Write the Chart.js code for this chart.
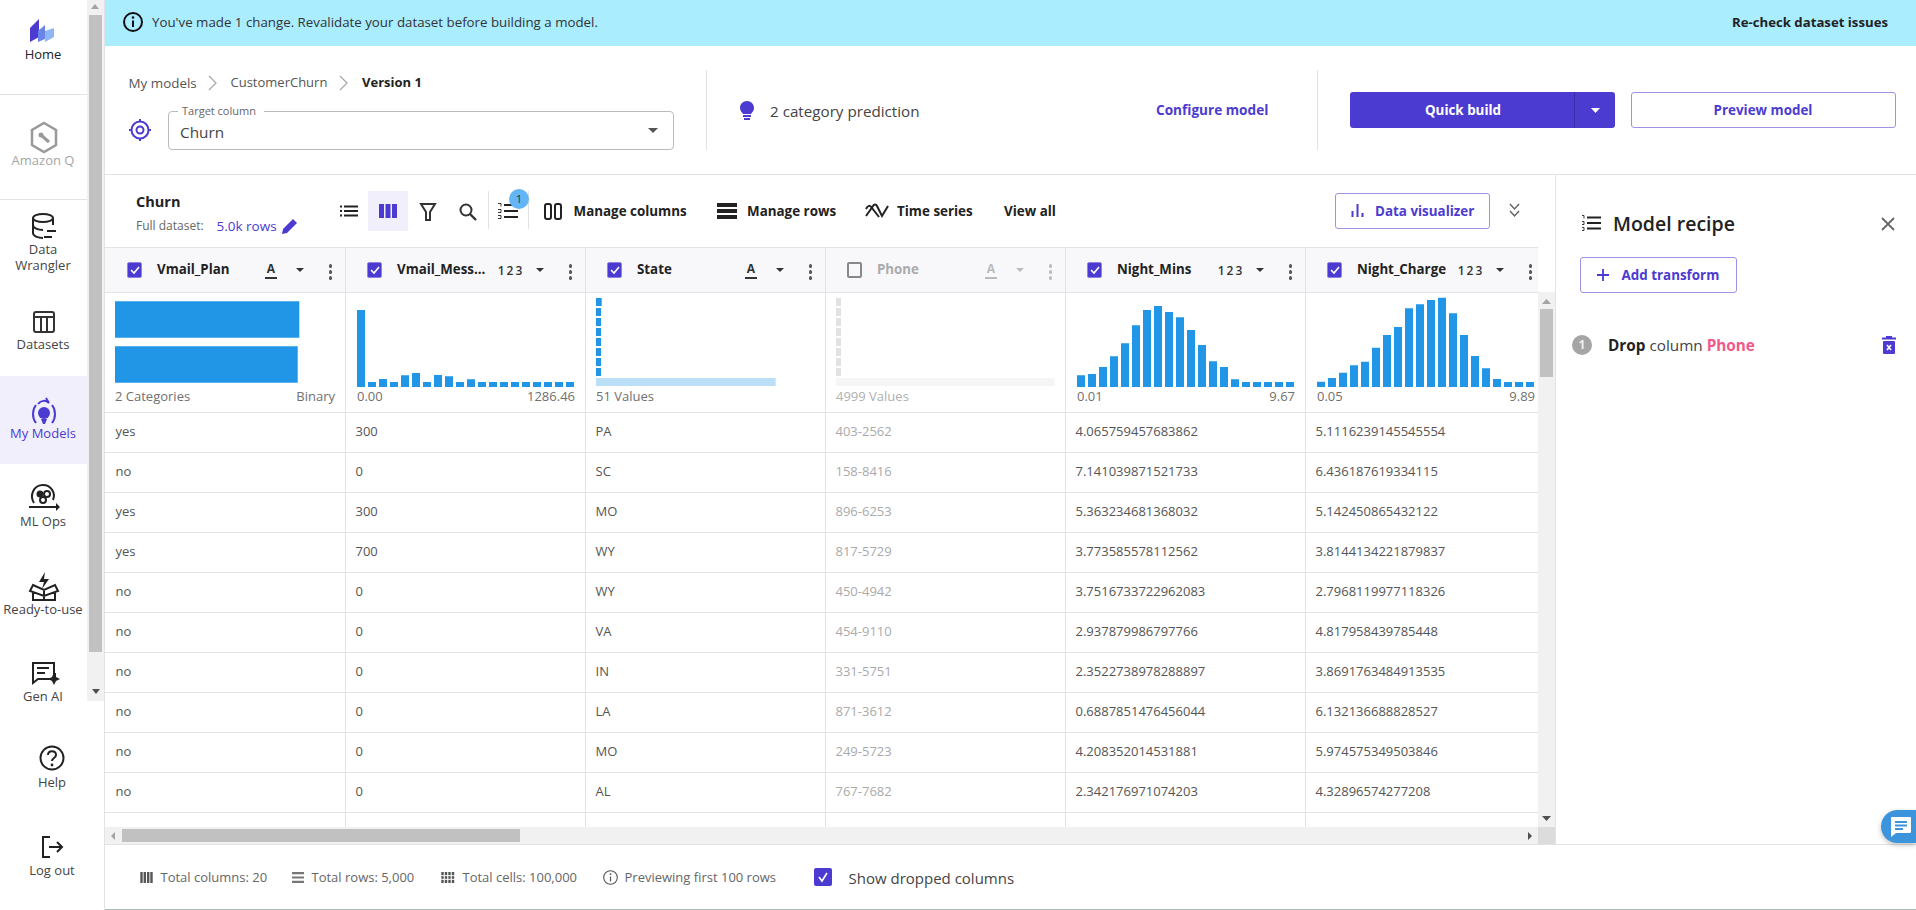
<!DOCTYPE html>
<html>
<head>
<meta charset="utf-8">
<title>CustomerChurn</title>
<script src="https://cdn.jsdelivr.net/npm/chart.js@4"></script>
<style>
  html, body { margin: 0; padding: 0; background: #fff; }
  body { width: 1916px; height: 910px; overflow: hidden; position: relative; font-family: "Open Sans", sans-serif; font-size: 13px; color: #333; }
  .t { position: absolute; white-space: nowrap; transform: translateY(-50%); line-height: 1.2; }
  .c { transform: translate(-50%, -50%); }
  .r { transform: translate(-100%, -50%); }
  .b { font-weight: 700; color: #222; font-size: 13.4px; }
  .p { color: #4c3bd1; }
  .box { position: absolute; box-sizing: border-box; }
  svg { position: absolute; overflow: visible; }
  canvas { position: absolute; }
</style>
</head>
<body>
<div id="ui"></div>
<script>
const ui = document.getElementById('ui');
const PURPLE = '#4c3bd1', BLUE = '#2196e6', LIGHT = '#bcdff8', LINE = '#e3e3e3';

function t(x, y, s, cls, css, parent) {
  const el = document.createElement('span');
  el.className = 't ' + (cls || '');
  el.style.left = x + 'px';
  el.style.top = y + 'px';
  if (css) el.style.cssText += css;
  el.innerHTML = s;
  (parent || ui).appendChild(el);
  return el;
}
function box(x, y, w, h, css, parent) {
  const el = document.createElement('div');
  el.className = 'box';
  el.style.cssText += `left:${x}px;top:${y}px;width:${w}px;height:${h}px;${css || ''}`;
  (parent || ui).appendChild(el);
  return el;
}
function ico(x, y, w, h, body, parent) {
  const wrap = document.createElement('div');
  wrap.innerHTML = `<svg style="left:${x}px;top:${y}px" width="${w}" height="${h}" viewBox="0 0 ${w} ${h}">${body}</svg>`;
  (parent || ui).appendChild(wrap.firstChild);
}
function tri(x, y, w, h, color) {
  ico(x - w / 2, y - h / 2, w, h, `<path d="M0 0H${w}L${w / 2} ${h}Z" fill="${color}"/>`);
}

// ---- sidebar
box(104, 0, 1, 910, 'background:' + LINE);
box(0, 376, 87, 88, 'background:#f0effb');
box(0, 94, 87, 1, 'background:' + LINE);
box(0, 199, 87, 1, 'background:' + LINE);
box(87, 0, 17, 701, 'background:#f1f1f1');
box(89, 15, 13, 637, 'background:#c1c1c1');
ico(91, 4, 8, 5, '<path d="M0 5L4 0L8 5Z" fill="#a3a3a3"/>');
ico(92, 689, 8, 5, '<path d="M0 0H8L4 5Z" fill="#505050"/>');

const nav = [
  ['Home', 43, 55, '#222'], ['Amazon Q', 43, 161, '#a5a5a5'], ['Data', 43, 249.5, '#444'], ['Wrangler', 43, 265.5, '#444'],
  ['Datasets', 43, 345, '#444'], ['My Models', 43, 433.5, PURPLE], ['ML Ops', 43, 521.5, '#444'],
  ['Ready-to-use', 43, 609.5, '#444'], ['Help', 52, 783, '#444'], ['Log out', 52, 871, '#444']
];
nav.forEach(n => t(n[1], n[2], n[0], 'c', `color:${n[3]};font-size:13px`));
// Gen AI is cut by the scrolling area
const genClip = box(0, 686, 87, 15, 'overflow:hidden');
t(43, 11, 'Gen AI', 'c', 'color:#444;font-size:13px', genClip);

ico(30, 17, 24, 25, '<path d="M0 11L9 2V20L0 25Z" fill="#4c3bd1"/><path d="M8 14L15 8V22L8 25Z" fill="#6a85ea"/><path d="M15 14L24 11V20L15 25Z" fill="#8fb6f5"/>');
ico(29, 121, 30, 33, '<path d="M15 2L27 9V24L15 31L3 24V9Z" fill="none" stroke="#999" stroke-width="2.5"/><circle cx="12" cy="14" r="2.5" fill="#999"/><path d="M13 15L20 21" stroke="#999" stroke-width="3"/>');
ico(30, 213, 28, 26, '<ellipse cx="13" cy="5" rx="10" ry="4" fill="none" stroke="#222" stroke-width="2"/><path d="M3 5V20C3 23 8 25 13 25M23 5V12M3 12C3 15 8 17 13 17" fill="none" stroke="#222" stroke-width="2"/><path d="M17 18H26M22 24H14" stroke="#222" stroke-width="2"/>');
ico(33, 311, 22, 22, '<rect x="1" y="1" width="20" height="20" rx="2" fill="none" stroke="#333" stroke-width="2"/><path d="M1 6H21M8 6V21M14 6V21" stroke="#333" stroke-width="2"/>');
ico(31, 397, 26, 33, '<path d="M5 8C1 13 1 21 5 26M21 8C25 13 25 21 21 26" fill="none" stroke="#4c3bd1" stroke-width="2"/><path d="M7 7C10 3 15 3 18 6L15 1" fill="none" stroke="#4c3bd1" stroke-width="2"/><circle cx="13" cy="16" r="6" fill="#4c3bd1"/><path d="M10 22H16L14 27H12Z" fill="#4c3bd1"/>');
ico(28, 482, 32, 30, '<path d="M6 21C1 13 6 3 15 3C23 3 28 11 25 18" fill="none" stroke="#222" stroke-width="2"/><circle cx="12" cy="12" r="3.5" fill="#222"/><circle cx="19" cy="12" r="3" fill="none" stroke="#222" stroke-width="2"/><circle cx="15" cy="18" r="3" fill="none" stroke="#222" stroke-width="2"/><path d="M1 25H28" stroke="#222" stroke-width="2"/><path d="M28 21L32 25L28 29Z" fill="#222"/>');
ico(29, 572, 30, 30, '<path d="M16 0L10 10H15L13 17L20 7H15Z" fill="#222"/><path d="M4 13L15 18L26 13L29 19L15 24L1 19Z M4 20V28H26V20 M15 18V28" fill="none" stroke="#222" stroke-width="2"/>');
ico(32, 661, 28, 25, '<path d="M1 2H22V13H23V18H6L1 22Z" fill="none" stroke="#222" stroke-width="2"/><path d="M5 7H17M5 12H13" stroke="#222" stroke-width="2"/><path d="M22 11L24 16L28 18L24 20L22 24L20 20L16 18L20 16Z" fill="#222"/>');
ico(39, 745, 26, 26, '<circle cx="13" cy="13" r="11.5" fill="none" stroke="#222" stroke-width="2"/><path d="M9 10C9 5 17 5 17 10C17 13 13 13 13 16" fill="none" stroke="#222" stroke-width="2"/><circle cx="13" cy="20" r="1.4" fill="#222"/>');
ico(41, 836, 24, 22, '<path d="M9 1H2V21H9" fill="none" stroke="#222" stroke-width="2"/><path d="M8 11H21M16 6L21 11L16 16" fill="none" stroke="#222" stroke-width="2"/>');

// ---- banner and header
box(105, 0, 1811, 46, 'background:#a9edff');
ico(123, 12, 20, 20, '<circle cx="10" cy="10" r="9" fill="none" stroke="#111" stroke-width="2"/><path d="M10 8.5V15" stroke="#111" stroke-width="2"/><circle cx="10" cy="5.5" r="1.3" fill="#111"/>');
t(152, 23, "You've made 1 change. Revalidate your dataset before building a model.", '', 'font-size:13.3px;color:#333');
t(1888, 23, 'Re-check dataset issues', 'r b', 'font-size:13.2px');

t(128.5, 83, 'My models', '', 'color:#555;font-size:13.4px');
ico(208, 75, 9, 16, '<path d="M1 1L8 8L1 15" fill="none" stroke="#aaa" stroke-width="1.3"/>');
t(230.5, 83, 'CustomerChurn', '', 'color:#555');
ico(339, 75, 9, 16, '<path d="M1 1L8 8L1 15" fill="none" stroke="#aaa" stroke-width="1.3"/>');
t(362, 83, 'Version 1', 'b', 'font-size:13px');
ico(129, 119, 22, 22, '<circle cx="11" cy="11" r="8.5" fill="none" stroke="#4c3bd1" stroke-width="2"/><circle cx="11" cy="11" r="3.5" fill="none" stroke="#4c3bd1" stroke-width="2"/><path d="M11 0V3M11 19V22M0 11H3M19 11H22" stroke="#4c3bd1" stroke-width="2"/>');
box(168, 110.5, 506, 39, 'border:1px solid #bbb;border-radius:4px');
box(178, 106, 86, 9, 'background:#fff');
t(182, 111, 'Target column', '', 'font-size:11px;color:#666');
t(180, 132, 'Churn', '', 'font-size:15.3px;color:#444');
tri(653, 130, 10, 5, '#555');

box(706, 70, 1, 80, 'background:' + LINE);
box(1317, 70, 1, 80, 'background:' + LINE);
ico(740, 101, 14, 19, '<path d="M7 0C11 0 14 3 14 7C14 10 12 11 11 13H3C2 11 0 10 0 7C0 3 3 0 7 0Z" fill="#4c3bd1"/><rect x="3" y="14" width="8" height="2" fill="#4c3bd1"/><rect x="4" y="17" width="6" height="2" fill="#4c3bd1"/>');
t(770, 111, '2 category prediction', '', 'font-size:15.2px;color:#444');
t(1156, 110, 'Configure model', 'b p', 'font-size:13.6px;color:#4c3bd1');
box(1350, 92, 265, 36, 'background:#4c3bd1;border-radius:3px');
box(1574, 92, 1, 36, 'background:#3a2ba6');
t(1463, 110, 'Quick build', 'c b', 'color:#fff');
tri(1595, 110, 9, 5, '#fff');
box(1631, 92, 265, 36, 'border:1px solid #9d92e6;border-radius:3px');
t(1763, 110, 'Preview model', 'c b', 'color:#4c3bd1');

box(105, 174, 1811, 1, 'background:' + LINE);
box(1555, 174, 1, 670, 'background:' + LINE);

// ---- toolbar
t(136, 202, 'Churn', 'b', 'font-size:14.5px');
t(136, 226, 'Full dataset:', '', 'font-size:12px;color:#666');
t(216.5, 226, '5.0k rows', 'p', 'font-size:13.5px');
ico(282, 218, 16, 16, '<path d="M0 16L1 11L11 1L15 5L5 15Z" fill="#4c3bd1"/>');
ico(340, 205, 18, 12, '<path d="M0 1.5H2M4 1.5H18M0 6H2M4 6H18M0 10.5H2M4 10.5H18" stroke="#222" stroke-width="2"/>');
box(368, 191, 40, 40, 'background:#f0effb');
ico(379, 204, 18, 14, '<rect width="5" height="14" fill="#4c3bd1"/><rect x="6.5" width="5" height="14" fill="#4c3bd1"/><rect x="13" width="5" height="14" fill="#4c3bd1"/>');
ico(420, 203, 16, 18, '<path d="M1 1H15L10 9V17H6V9Z" fill="none" stroke="#333" stroke-width="2"/>');
ico(459, 203, 18, 18, '<circle cx="7" cy="7" r="5.5" fill="none" stroke="#333" stroke-width="2"/><path d="M11 11L17 17" stroke="#333" stroke-width="2.4"/>');
box(488, 191, 1, 38, 'background:' + LINE);
box(528, 191, 1, 38, 'background:' + LINE);
ico(498, 203, 20, 16, '<path d="M6 2H20M6 8H20M6 14H20" stroke="#222" stroke-width="2"/><path d="M0 0.5H3V3.5M0 6.5H3V9.5H0M0 12.5H3V15.5H0" stroke="#222" stroke-width="0.9" fill="none"/>');
ico(509, 189, 20, 20, '<circle cx="10" cy="10" r="10" fill="#64b5f6"/>');
t(519, 199, '1', 'c', 'font-size:11.5px;color:#333');
ico(544, 203, 18, 17, '<rect x="1" y="1" width="6" height="15" rx="2" fill="none" stroke="#222" stroke-width="2"/><rect x="11" y="1" width="6" height="15" rx="2" fill="none" stroke="#222" stroke-width="2"/>');
t(573.5, 211, 'Manage columns', 'b');
ico(717, 203, 20, 16, '<rect width="20" height="4" fill="#222"/><rect y="6" width="20" height="4" fill="#222"/><rect y="12" width="20" height="4" fill="#222"/>');
t(747, 211, 'Manage rows', 'b');
ico(865, 203, 24, 15, '<path d="M1 13L8 3C9 1 11 1 12 3L17 13L23 3M1 6C3 2 5 2 7 5L14 14" fill="none" stroke="#222" stroke-width="2"/>');
t(897, 211, 'Time series', 'b');
t(1004, 211, 'View all', 'b');
box(1334.5, 193, 155, 36, 'border:1px solid #9d92e6;border-radius:3px');
ico(1351, 204, 13, 13, '<path d="M1.5 7V13M6.5 0V13M11.5 9V13" stroke="#4c3bd1" stroke-width="2"/>');
t(1375, 211, 'Data visualizer', 'b', 'color:#4c3bd1');
ico(1509, 203, 11, 15, '<path d="M1 1L5.5 6L10 1M1 8L5.5 13L10 8" fill="none" stroke="#666" stroke-width="1.5"/>');

// ---- table
const colW = 240;
const columns = [
  { name: 'Vmail_Plan', type: 'A', on: true },
  { name: 'Vmail_Mess...', type: '123', on: true },
  { name: 'State', type: 'A', on: true },
  { name: 'Phone', type: 'A', on: false },
  { name: 'Night_Mins', type: '123', on: true },
  { name: 'Night_Charge', type: '123', on: true }
];
const rows = [
  ['yes', '300', 'PA', '403-2562', '4.065759457683862', '5.1116239145545554'],
  ['no', '0', 'SC', '158-8416', '7.141039871521733', '6.436187619334115'],
  ['yes', '300', 'MO', '896-6253', '5.363234681368032', '5.142450865432122'],
  ['yes', '700', 'WY', '817-5729', '3.773585578112562', '3.8144134221879837'],
  ['no', '0', 'WY', '450-4942', '3.7516733722962083', '2.7968119977118326'],
  ['no', '0', 'VA', '454-9110', '2.937879986797766', '4.817958439785448'],
  ['no', '0', 'IN', '331-5751', '2.3522738978288897', '3.8691763484913535'],
  ['no', '0', 'LA', '871-3612', '0.6887851476456044', '6.132136688828527'],
  ['no', '0', 'MO', '249-5723', '4.208352014531881', '5.974575349503846'],
  ['no', '0', 'AL', '767-7682', '2.342176971074203', '4.32896574277208'],
  ['yes', '300', 'GA', '485-4876', '5.061937926368529', '6.494149469285448']
];

const tableEl = box(105, 247, 1433, 580, 'overflow:hidden');
box(0, 0, 1433, 45, 'background:#f8f8fb', tableEl);
box(0, 0, 1433, 1, 'background:' + LINE, tableEl);
box(0, 45, 1433, 1, 'background:' + LINE, tableEl);
for (let i = 0; i < 12; i++) box(0, 164.5 + i * 40, 1433, 1, 'background:' + LINE, tableEl);
columns.forEach((col, i) => {
  const x = i * colW;
  box(x + colW, 0, 1, 580, 'background:' + LINE, tableEl);
  const title = col.on ? '#222' : '#aaa', dim = col.on ? '#333' : '#bbb';
  if (col.on) {
    box(x + 21.5, 15, 15.5, 15.5, 'background:#4c3bd1;border-radius:2px;border:1px solid #8f84e6', tableEl);
    const chk = document.createElementNS('http://www.w3.org/2000/svg', 'svg');
    chk.setAttribute('width', 16); chk.setAttribute('height', 16);
    chk.style.cssText = `left:${x + 21.5}px;top:15px`;
    chk.innerHTML = '<path d="M4 8L7 11L12 5" fill="none" stroke="#fff" stroke-width="1.6"/>';
    tableEl.appendChild(chk);
  } else {
    box(x + 21.5, 15, 15.5, 15.5, 'border:2px solid #888;border-radius:2px', tableEl);
  }
  t(x + 52, 23, col.name, '', `font-weight:700;font-size:13.3px;color:${title}`, tableEl);
  if (col.type === 'A') {
    t(x + 166, 22, 'A', 'c', `font-weight:700;font-size:12px;color:${dim}`, tableEl);
    box(x + 160, 30, 12, 1.5, 'background:' + dim, tableEl);
  } else {
    t(x + 166, 24, '123', 'c', `font-weight:600;font-size:12px;letter-spacing:2px;color:${dim}`, tableEl);
  }
  box(x + 191, 21, 8, 4, `background:${dim};clip-path:polygon(0 0,100% 0,50% 100%)`, tableEl);
  [0, 6, 12].forEach(d => box(x + 223.5, 17 + d, 3.5, 3.5, `background:${col.on ? '#555' : '#bbb'};border-radius:50%`, tableEl));
  rows.forEach((r, j) => t(x + 10.5, 184.5 + j * 40, r[i], '', `font-size:13px;color:${i === 3 ? '#aaa' : '#555'}`, tableEl));
});

// summary line under each small chart
const stat = 'font-size:13px;color:#707070';
t(115, 397, '2 Categories', '', stat);
t(335, 397, 'Binary', 'r', stat);
t(357, 397, '0.00', '', stat);
t(575, 397, '1286.46', 'r', stat);
t(596, 397, '51 Values', '', stat);
t(836, 397, '4999 Values', '', 'font-size:13px;color:#b0b0b0');
t(1077, 397, '0.01', '', stat);
t(1295, 397, '9.67', 'r', stat);
t(1317, 397, '0.05', '', stat);
t(1535, 397, '9.89', 'r', stat);

// ---- small charts, values are bar lengths
const vmailPlan = { yes: 184.3, no: 182.7 };
const vmailMessages = [231, 15, 24, 15, 35, 42, 15, 36, 32, 15, 23, 15, 15, 15, 15, 15, 15, 15, 15, 15];
const nightMins = [35, 39, 60, 92, 131, 185, 231, 243, 225, 209, 171, 126, 77, 60, 23, 15, 15, 15, 15, 15];
const nightCharge = [16, 27, 43, 65, 76, 118, 156, 180, 236, 248, 261, 268, 221, 156, 93, 56, 24, 15, 15, 15];
const stateTop = { WV: 5.7, MN: 5, AL: 5, ID: 5, VA: 5, OH: 5, TX: 5, WY: 5, Other: 179.7 };
const phoneTop = { '403-2562': 5, '158-8416': 5, '896-6253': 5, '817-5729': 5, '450-4942': 5, '454-9110': 5, '331-5751': 5, '871-3612': 5, Other: 218.7 };

function addCanvas(x, y, w, h) {
  const c = document.createElement('canvas');
  c.width = w; c.height = h;
  c.style.left = x + 'px'; c.style.top = y + 'px';
  c.style.width = w + 'px'; c.style.height = h + 'px';
  document.body.appendChild(c);
  return c;
}

function renderHistogram(left, values) {
  const bins = values.map((_, i) => i + 1);
  new Chart(addCanvas(left - 2, 297, 222, 90), {
    type: 'bar',
    data: { labels: bins, datasets: [{ data: values, backgroundColor: BLUE, barPercentage: 8 / 11, categoryPercentage: 1 }] },
    options: {
      responsive: false, animation: false,
      layout: { padding: { left: 0.5, right: 1.5 } },
      plugins: { legend: { display: false }, tooltip: { enabled: false } },
      scales: { x: { display: false }, y: { display: false, min: 0, max: 270 } }
    }
  });
}
function renderCategories(left, dict, colors, pct) {
  new Chart(addCanvas(left, 297, 220, 90), {
    type: 'bar',
    data: {
      labels: Object.keys(dict),
      datasets: [{ data: Object.values(dict), backgroundColor: colors, barPercentage: pct, categoryPercentage: 1 }]
    },
    options: {
      indexAxis: 'y', responsive: false, animation: false,
      plugins: { legend: { display: false }, tooltip: { enabled: false } },
      scales: { x: { display: false, min: 0, max: 220 }, y: { display: false } }
    }
  });
}
function topColors(main, rest) { return [main, main, main, main, main, main, main, main, rest]; }

renderCategories(115, vmailPlan, BLUE, 36.4 / 45);
renderHistogram(357, vmailMessages);
renderCategories(596, stateTop, topColors(BLUE, LIGHT), 0.8);
renderCategories(836, phoneTop, topColors('#e2e2e2', '#f5f5f5'), 0.8);
renderHistogram(1077, nightMins);
renderHistogram(1317, nightCharge);

// ---- table scrollbars
box(1538, 292, 17, 535, 'background:#f1f1f1');
box(1540, 309, 13, 68, 'background:#c1c1c1');
ico(1542, 299, 9, 5, '<path d="M0 5L4.5 0L9 5Z" fill="#a3a3a3"/>');
ico(1542, 816, 9, 5, '<path d="M0 0H9L4.5 5Z" fill="#505050"/>');
box(105, 827, 1433, 17, 'background:#f1f1f1');
box(122, 829, 398, 13, 'background:#c1c1c1');
ico(111, 832, 4, 8, '<path d="M4 0V8L0 4Z" fill="#a3a3a3"/>');
ico(1528, 832, 4, 8, '<path d="M0 0V8L4 4Z" fill="#505050"/>');
box(1538, 827, 17, 17, 'background:#dcdcdc');
box(105, 844, 1811, 1, 'background:' + LINE);

// ---- recipe panel
ico(1582, 215, 19, 16, '<path d="M5 2.5H19M5 8H19M5 13.5H19" stroke="#222" stroke-width="2"/><path d="M0 0.5H2V3.5M0 6.5H2V9.5H0M0 12.5H2V15.5H0" stroke="#222" stroke-width="0.9" fill="none"/>');
t(1613, 224, 'Model recipe', '', 'font-size:19.5px;font-weight:600;color:#222');
ico(1881, 217, 14, 14, '<path d="M1 1L13 13M13 1L1 13" stroke="#666" stroke-width="1.8"/>');
box(1580, 257, 157, 36, 'border:1px solid #9d92e6;border-radius:3px');
ico(1597, 269, 12, 12, '<path d="M6 0V12M0 6H12" stroke="#4c3bd1" stroke-width="1.8"/>');
t(1621.5, 275, 'Add transform', 'b', 'color:#4c3bd1');
ico(1572, 335, 20, 20, '<circle cx="10" cy="10" r="10" fill="#a5a5a5"/>');
t(1582, 345, '1', 'c', 'font-weight:700;font-size:12px;color:#eee');
t(1608, 345, '<b style="color:#222">Drop</b> column <b style="color:#ef5a8b">Phone</b>', '', 'font-size:15.3px;color:#444');
ico(1882, 336, 14, 18, '<rect y="1.5" width="14" height="2" fill="#4c3bd1"/><rect x="4" width="6" height="2" fill="#4c3bd1"/><rect x="1" y="5" width="12" height="13" rx="1" fill="#4c3bd1"/><path d="M5 9L9 14M9 9L5 14" stroke="#fff" stroke-width="1.6"/>');
box(1881, 810, 35, 33, 'background:#3b94dc;border-radius:17px 0 0 17px;box-shadow:0 2px 5px rgba(0,0,0,.25)');
ico(1891, 817, 20, 20, '<path d="M1 0H19Q20 0 20 1V15Q20 16 19 16H5L0 20V1Q0 0 1 0Z" fill="#fff"/><path d="M4 5H16M4 8.5H16M4 12H12" stroke="#3b94dc" stroke-width="2"/>');

// ---- footer
const foot = 'font-size:13px;color:#666';
ico(140, 872, 13, 11, '<path d="M1.5 0V11M4.8 0V11M8.2 0V11M11.5 0V11" stroke="#555" stroke-width="2.4"/>');
t(160.5, 877.5, 'Total columns: 20', '', foot);
ico(292, 872, 12, 11, '<path d="M0 1.2H12M0 5.5H12M0 9.8H12" stroke="#777" stroke-width="2.2"/>');
t(311.5, 877.5, 'Total rows: 5,000', '', foot);
ico(441, 872, 14, 11, '<path d="M1.5 0V11M5 0V11M8.5 0V11M12 0V11" stroke="#555" stroke-width="2.4"/><path d="M0 3.7H14M0 7.3H14" stroke="#fff" stroke-width="1"/>');
t(462.5, 877.5, 'Total cells: 100,000', '', foot);
ico(603, 870, 15, 15, '<circle cx="7.5" cy="7.5" r="6.8" fill="none" stroke="#555" stroke-width="1.1"/><path d="M7.5 6.5V11.5" stroke="#555" stroke-width="1.2"/><circle cx="7.5" cy="4.2" r="0.9" fill="#555"/>');
t(624.5, 877.5, 'Previewing first 100 rows', '', foot);
box(814, 868, 18, 18, 'background:#4c3bd1;border-radius:2px');
ico(814, 868, 18, 18, '<path d="M5 9L8 13L13 5" fill="none" stroke="#fff" stroke-width="1.6"/>');
t(848.5, 877.5, 'Show dropped columns', '', 'font-size:15px;color:#444');
box(105, 909, 1811, 1, 'background:#a9bcb8');
</script>
</body>
</html>
